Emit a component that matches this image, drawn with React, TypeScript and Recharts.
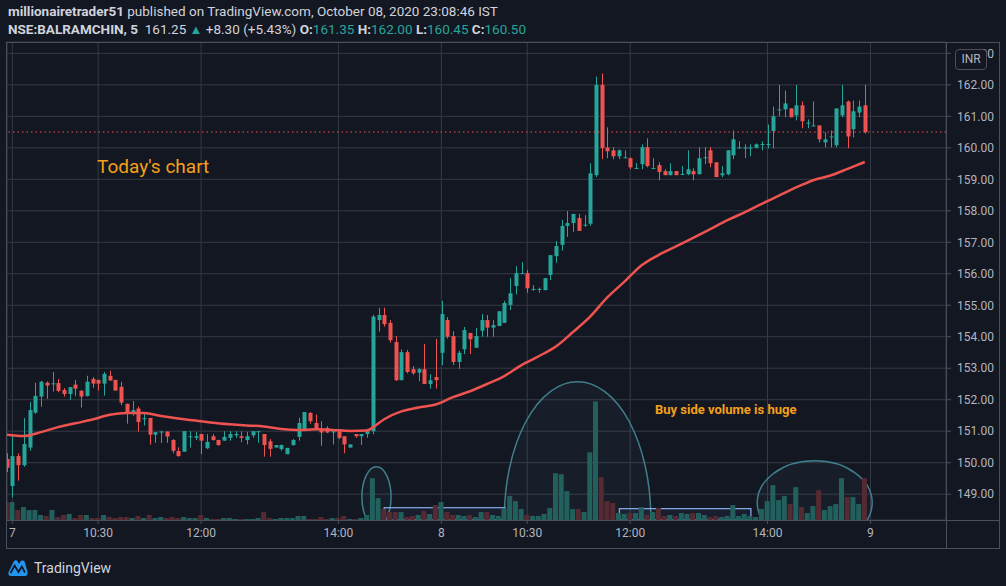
import React from 'react'
import {
  ComposedChart,
  Bar,
  Line,
  XAxis,
  YAxis,
  CartesianGrid,
  Cell,
  ReferenceLine,
  ReferenceArea,
} from 'recharts'

// 5-minute candles, index 0 = last bar of the previous session, 1..75 = Oct 7, 76..150 = Oct 8
const opens = [
  150.12, 149.26, 150.21, 149.92, 150.48, 151.59, 152.1, 152.54, 152.5, 152.53,
  152.31, 152.18, 152.48, 152.28, 152.12, 152.66, 152.63, 152.51, 152.76, 152.63,
  152.41, 151.87, 151.57, 151.72, 151.39, 151.42, 150.89, 150.97, 150.99, 150.72,
  150.37, 150.35, 150.82, 150.79, 150.91, 150.46, 150.84, 150.72, 150.7, 150.79,
  150.87, 150.84, 150.72, 150.87, 150.97, 150.91, 150.68, 150.48, 150.43, 150.27,
  150.56, 150.82, 151.05, 151.58, 151.26, 151.08, 151.1, 150.96, 151.0, 150.84,
  150.48, 150.91, 150.84, 150.91, 151.0, 154.53, 154.69, 154.44, 153.83, 152.62,
  153.51, 152.97, 152.86, 152.97, 152.5, 152.72, 153.49, 154.53, 154.02, 153.2,
  153.6, 154.12, 153.65, 154.19, 154.53, 154.29, 154.34, 154.44, 155.01, 155.61,
  156.0, 156.02, 155.5, 155.5, 155.48, 155.96, 156.56, 156.92, 157.52, 157.61,
  157.77, 157.54, 157.59, 159.13, 162.0, 160.01, 159.92, 159.73, 159.68, 159.67,
  159.34, 159.48, 160.02, 159.34, 159.45, 159.26, 159.13, 159.26, 159.16, 159.16,
  159.26, 159.16, 159.68, 159.92, 159.54, 159.13, 159.16, 159.76, 159.99, 159.99,
  159.99, 160.0, 160.1, 160.1, 160.53, 161.2, 161.22, 161.25, 161.03, 161.35,
  160.78, 160.69, 160.71, 160.17, 160.34, 160.08, 161.03, 161.47, 160.59, 161.12,
  161.35,
]
const highs = [
  150.3, 150.91, 150.3, 151.42, 151.93, 152.54, 152.6, 152.58, 152.88, 152.66,
  152.37, 152.4, 152.63, 152.31, 152.76, 152.72, 152.63, 152.88, 152.92, 152.63,
  152.57, 151.87, 151.96, 151.78, 151.61, 151.42, 150.97, 151.01, 150.99, 150.75,
  150.49, 151.0, 151.0, 150.98, 150.91, 150.91, 150.91, 150.73, 151.0, 151.0,
  151.0, 151.0, 150.98, 151.0, 151.0, 150.91, 150.75, 150.56, 150.58, 150.47,
  150.75, 151.43, 151.61, 151.61, 151.53, 151.32, 151.16, 151.0, 151.0, 150.84,
  150.58, 150.91, 150.91, 151.08, 154.7, 154.92, 154.92, 154.53, 154.02, 153.6,
  153.58, 153.07, 153.0, 153.77, 152.81, 153.93, 155.14, 154.62, 154.18, 153.56,
  154.31, 154.12, 154.28, 154.72, 154.69, 154.53, 154.81, 155.14, 155.86, 156.24,
  156.37, 156.12, 155.64, 155.56, 155.86, 156.59, 157.04, 157.71, 157.99, 157.9,
  157.9, 157.86, 159.51, 162.26, 162.36, 160.65, 160.02, 159.95, 159.92, 159.7,
  159.51, 160.11, 160.3, 159.67, 159.54, 159.32, 159.51, 159.26, 159.42, 159.92,
  159.35, 160.02, 160.02, 160.02, 159.54, 159.42, 159.92, 160.55, 160.21, 160.11,
  160.11, 160.14, 160.21, 160.74, 161.31, 162.0, 161.82, 161.25, 162.0, 161.47,
  160.9, 161.47, 160.71, 160.49, 160.55, 161.25, 162.0, 161.5, 161.5, 161.5,
  162.0,
]
const lows = [
  149.7, 148.9, 149.43, 149.87, 150.38, 151.55, 151.78, 152.03, 152.26, 152.24,
  152.1, 151.99, 152.12, 151.75, 152.1, 152.38, 152.29, 152.13, 152.6, 152.29,
  151.83, 151.24, 151.49, 150.99, 151.18, 150.57, 150.63, 150.63, 150.63, 150.3,
  150.19, 150.35, 150.48, 150.72, 150.27, 150.43, 150.7, 150.54, 150.7, 150.7,
  150.79, 150.65, 150.58, 150.79, 150.63, 150.19, 150.19, 150.48, 150.38, 150.27,
  150.54, 150.7, 151.0, 151.24, 151.05, 150.54, 150.94, 150.58, 150.75, 150.3,
  150.48, 150.79, 150.56, 150.79, 150.9, 154.16, 154.32, 153.81, 152.59, 152.62,
  152.84, 152.79, 152.59, 152.5, 152.35, 152.35, 153.1, 153.94, 153.1, 152.98,
  153.45, 153.45, 153.65, 154.0, 154.0, 154.0, 154.34, 154.44, 154.85, 155.35,
  156.0, 155.4, 155.46, 155.4, 155.48, 155.8, 156.35, 156.73, 157.17, 157.33,
  157.36, 157.49, 157.52, 159.07, 159.64, 159.67, 159.64, 159.64, 159.67, 159.32,
  159.34, 159.32, 159.38, 159.32, 158.97, 159.13, 159.13, 159.13, 159.13, 159.13,
  158.97, 159.16, 159.48, 159.38, 159.07, 159.07, 159.13, 159.64, 159.98, 159.67,
  159.73, 159.98, 159.92, 159.98, 159.98, 161.0, 160.97, 160.97, 160.87, 160.62,
  160.62, 160.68, 160.17, 160.01, 160.01, 160.01, 160.97, 159.99, 160.33, 160.97,
  160.45,
]
const closes = [
  149.84, 150.21, 149.92, 150.59, 151.67, 152.12, 152.57, 152.45, 152.52, 152.28,
  152.18, 152.4, 152.35, 152.1, 152.57, 152.51, 152.51, 152.82, 152.61, 152.29,
  151.91, 151.6, 151.67, 151.29, 151.41, 150.89, 150.97, 150.99, 150.83, 150.38,
  150.21, 151.0, 150.84, 150.84, 150.7, 150.66, 150.72, 150.56, 150.82, 150.91,
  150.91, 150.79, 150.84, 151.0, 151.0, 150.56, 150.44, 150.56, 150.56, 150.47,
  150.72, 151.26, 151.61, 151.32, 151.05, 150.96, 150.96, 151.0, 150.79, 150.58,
  150.58, 150.84, 150.91, 151.0, 154.64, 154.69, 154.4, 153.89, 152.62, 153.51,
  152.88, 152.84, 152.97, 152.5, 152.62, 152.62, 154.72, 154.0, 153.2, 153.49,
  154.21, 153.92, 154.02, 154.53, 154.29, 154.37, 154.81, 155.07, 155.38, 156.02,
  156.02, 155.54, 155.52, 155.52, 155.86, 156.59, 156.88, 157.52, 157.61, 157.9,
  157.36, 157.56, 159.19, 162.0, 159.99, 159.89, 159.73, 159.92, 159.7, 159.38,
  159.36, 160.02, 159.42, 159.36, 159.23, 159.13, 159.26, 159.13, 159.17, 159.32,
  159.16, 159.67, 159.7, 159.51, 159.07, 159.19, 159.92, 160.27, 160.01, 160.01,
  160.01, 160.11, 160.12, 160.12, 161.0, 161.22, 161.41, 160.97, 161.35, 160.84,
  160.8, 160.71, 160.27, 160.27, 160.36, 161.25, 161.35, 160.36, 161.16, 161.31,
  160.5,
]
// volume in thousand shares
const volumes = [
  18, 18, 10, 13, 10, 10, 5, 4, 10, 3, 5, 6, 2, 5, 5, 2, 2, 5, 3, 2,
  3, 3, 2, 4, 2, 5, 2, 3, 2, 3, 2, 3, 2, 2, 5, 2, 1, 1, 2, 2,
  1, 1, 1, 1, 2, 8, 2, 1, 2, 2, 2, 4, 4, 1, 1, 3, 1, 2, 2, 4,
  1, 1, 2, 5, 42, 22, 11, 8, 8, 8, 3, 4, 5, 9, 6, 15, 18, 8, 5, 5,
  4, 5, 3, 8, 8, 5, 4, 12, 24, 19, 11, 5, 4, 4, 6, 12, 47, 46, 29, 11,
  11, 8, 68, 119, 43, 19, 17, 7, 6, 7, 7, 13, 5, 8, 12, 4, 5, 4, 7, 6,
  7, 7, 5, 3, 4, 3, 4, 15, 4, 6, 4, 3, 11, 19, 35, 20, 24, 16, 33, 13,
  7, 14, 30, 10, 14, 16, 42, 23, 23, 16, 42,
]
// moving average read at every third bar
const maIndex = [
  0, 3, 6, 9, 12, 15, 18, 21, 24, 27, 30, 33, 36, 39, 42, 45, 48, 51, 54, 57,
  60, 63, 64, 66, 69, 72, 75, 78, 81, 84, 87, 90, 93, 96, 99, 102, 105, 108, 111,
  114, 117, 120, 123, 126, 129, 132, 135, 138, 141, 144, 147, 150,
]
const maValues = [
  150.89, 150.85, 150.97, 151.13, 151.25, 151.37, 151.52, 151.58, 151.58, 151.48,
  151.4, 151.34, 151.27, 151.22, 151.18, 151.15, 151.07, 151.04, 151.06, 151.04,
  151.01, 151.02, 151.12, 151.38, 151.63, 151.75, 151.85, 152.08, 152.27, 152.5,
  152.75, 153.1, 153.38, 153.69, 154.15, 154.64, 155.25, 155.75, 156.27, 156.6,
  156.87, 157.14, 157.42, 157.7, 157.95, 158.22, 158.48, 158.74, 158.97, 159.12,
  159.33, 159.55,
]
const tickIndex = [1, 16, 34, 58, 76, 91, 109, 133, 151]
const tickLabels = ['7', '10:30', '12:00', '14:00', '8', '10:30', '12:00', '14:00', '9']
const priceTicks = [149, 150, 151, 152, 153, 154, 155, 156, 157, 158, 159, 160, 161, 162, 163]
const priceFloor = 148.18
const priceTop = 163.36
const lastClose = 160.5

const BG = '#131722'
const GRID = '#363a45'
const FRAME = '#4c4f5a'
const TEXT = '#d1d4dc'
const AXIS_TEXT = '#b2b5be'
const UP = '#26a69a'
const DOWN = '#ef5350'
const VOL_UP = '#22605d'
const VOL_DOWN = '#552a32'
const ORANGE = '#f5a01a'
const ANNOT = '#3f7f8c'
const BOX = '#8aaef0'

const data = opens.map((o, i) => {
  const k = maIndex.indexOf(i)
  return {
    i,
    o,
    h: highs[i],
    l: lows[i],
    c: closes[i],
    range: [lows[i], highs[i]],
    vol: volumes[i],
    ma: k >= 0 ? maValues[k] : null,
  }
})

const Candle = (props: any) => {
  const { x, y, width, height, payload } = props
  if (!payload) return null
  const { o, h, l, c } = payload
  const top = Math.min(y, y + height)
  const span = Math.abs(height)
  const k = h - l > 0 ? span / (h - l) : 0
  const yOf = (v: number) => top + (h - v) * k
  const cx = Math.round(x + width / 2) + 0.5
  const color = c >= o ? UP : DOWN
  const bTop = yOf(Math.max(o, c))
  const bBot = yOf(Math.min(o, c))
  return (
    <g>
      <line x1={cx} x2={cx} y1={top} y2={top + span} stroke={color} strokeWidth={1} />
      <rect x={cx - 2} y={bTop} width={4} height={Math.max(1, bBot - bTop)} fill={color} />
    </g>
  )
}

// ellipse drawn from its top (hi) to its bottom (lo, below the pane), clipped at the pane floor
const Ellipse = (props: any) => {
  const { x, y, width, height, hi, lo, id } = props
  const k = Math.abs(height) / (hi - priceFloor)
  const bottom = y + (hi - lo) * k
  return (
    <g>
      <defs>
        <clipPath id={id}>
          <rect x={x - 3} y={y - 3} width={width + 6} height={Math.abs(height) + 3} />
        </clipPath>
      </defs>
      <ellipse
        clipPath={`url(#${id})`}
        cx={x + width / 2}
        cy={(y + bottom) / 2}
        rx={width / 2}
        ry={(bottom - y) / 2}
        fill="rgba(90,150,170,0.05)"
        stroke={ANNOT}
        strokeWidth={1.5}
      />
    </g>
  )
}

const Box = (props: any) => {
  const { x, y, width, height } = props
  return (
    <rect x={x} y={y} width={width} height={height} fill="rgba(120,160,240,0.06)" stroke={BOX} strokeWidth={1.2} />
  )
}

const TvLogo = () => (
  <svg width="20" height="18" viewBox="0 0 20 18">
    <path
      d="M3 17 C0.5 17 0 14.5 0.6 13 L5.5 3 C6.5 0.8 9 0.8 10 3 L11 5 L12.3 2.8 C13.3 1 15.6 1 16.6 2.8 L19.4 12.5 C20.2 15 18.8 17 16.5 17 Z"
      fill="#2196f3"
    />
    <path d="M2.5 14 L6.6 6.5 L10.5 13 L13.8 7.5 L17 13.5" fill="none" stroke={BG} strokeWidth={1.8} />
  </svg>
)

const line = (style: React.CSSProperties) => (
  <div style={{ position: 'absolute', background: FRAME, pointerEvents: 'none', ...style }} />
)

export default function App() {
  return (
    <div
      style={{
        position: 'absolute',
        left: 0,
        top: 0,
        width: 1006,
        height: 586,
        background: BG,
        overflow: 'hidden',
        fontFamily: 'Roboto, "Noto Sans", sans-serif',
      }}
    >
      <div style={{ position: 'absolute', left: 8, top: 3, fontSize: 13.5, color: TEXT, whiteSpace: 'nowrap' }}>
        <b>millionairetrader51</b> published on TradingView.com, October 08, 2020 23:08:46 IST
      </div>
      <div style={{ position: 'absolute', left: 8, top: 21, fontSize: 13.5, color: TEXT, whiteSpace: 'nowrap' }}>
        <b>NSE:BALRAMCHIN, 5</b>&nbsp; 161.25 <span style={{ color: UP, fontSize: 13 }}>▲</span> +8.30 (+5.43%){' '}
        <b>O:</b><span style={{ color: UP }}>161.35</span> <b>H:</b><span style={{ color: UP }}>162.00</span>{' '}
        <b>L:</b><span style={{ color: UP }}>160.45</span> <b>C:</b><span style={{ color: UP }}>160.50</span>
      </div>

      <div style={{ position: 'absolute', left: 0, top: 0 }}>
        <ComposedChart
          width={1006}
          height={586}
          data={data}
          margin={{ top: 42, right: 6, bottom: 38, left: 7 }}
        >
          <CartesianGrid xAxisId="t" yAxisId="p" stroke={GRID} strokeWidth={1} />
          <XAxis
            xAxisId="t"
            dataKey="i"
            type="number"
            domain={[0.07, 164.2]}
            allowDataOverflow
            ticks={tickIndex}
            interval={0}
            tickFormatter={(v: number) => tickLabels[tickIndex.indexOf(v)]}
            height={28}
            axisLine={false}
            tickLine={{ stroke: FRAME }}
            tickSize={4}
            tickMargin={4}
            tick={{ fill: AXIS_TEXT, fontSize: 12 }}
          />
          <XAxis xAxisId="v" dataKey="i" type="number" domain={[0.07, 164.2]} allowDataOverflow hide />
          <YAxis
            yAxisId="p"
            orientation="right"
            domain={[priceFloor, priceTop]}
            allowDataOverflow
            ticks={priceTicks}
            interval={0}
            tickFormatter={(v: number) => v.toFixed(2)}
            width={54}
            axisLine={false}
            tickLine={{ stroke: FRAME }}
            tickSize={5}
            tickMargin={6}
            tick={{ fill: AXIS_TEXT, fontSize: 12 }}
          />
          <YAxis yAxisId="v" domain={[0, 480]} allowDataOverflow hide />

          <Bar xAxisId="v" yAxisId="v" dataKey="vol" barSize={5} isAnimationActive={false}>
            {data.map((d) => (
              <Cell key={`v-${d.i}`} fill={d.c >= d.o ? VOL_UP : VOL_DOWN} />
            ))}
          </Bar>

          <ReferenceArea xAxisId="t" yAxisId="p" x1={62.1} x2={67.2} y1={priceFloor} y2={149.87} ifOverflow="visible"
            shape={<Ellipse id="ell-a" hi={149.87} lo={147.96} />} />
          <ReferenceArea xAxisId="t" yAxisId="p" x1={87.0} x2={112.6} y1={priceFloor} y2={152.57} ifOverflow="visible"
            shape={<Ellipse id="ell-b" hi={152.57} lo={143.9} />} />
          <ReferenceArea xAxisId="t" yAxisId="p" x1={131.2} x2={151.3} y1={priceFloor} y2={150.06} ifOverflow="visible"
            shape={<Ellipse id="ell-c" hi={150.06} lo={147.4} />} />
          <ReferenceArea xAxisId="t" yAxisId="p" x1={66.0} x2={87.1} y1={priceFloor} y2={148.57} ifOverflow="visible" shape={<Box />} />
          <ReferenceArea xAxisId="t" yAxisId="p" x1={107.1} x2={130.1} y1={priceFloor} y2={148.54} ifOverflow="visible" shape={<Box />} />

          <ReferenceLine xAxisId="t" yAxisId="p" y={lastClose} stroke={DOWN} strokeDasharray="1.5 3" strokeWidth={1} />

          <Bar xAxisId="t" yAxisId="p" dataKey="range" barSize={4} shape={<Candle />} isAnimationActive={false} />

          <Line
            xAxisId="t"
            yAxisId="p"
            dataKey="ma"
            type="monotone"
            connectNulls
            dot={false}
            stroke={DOWN}
            strokeWidth={2.5}
            isAnimationActive={false}
          />
        </ComposedChart>
      </div>

      {/* pane frame */}
      {line({ left: 7, top: 42, width: 992, height: 1 })}
      {line({ left: 7, top: 548, width: 993, height: 1 })}
      {line({ left: 6, top: 42, width: 1, height: 507 })}
      {line({ left: 999, top: 42, width: 1, height: 507 })}
      {line({ left: 946, top: 42, width: 1, height: 507 })}
      {line({ left: 7, top: 520, width: 992, height: 1 })}

      <div
        style={{
          position: 'absolute',
          left: 955,
          top: 49,
          width: 30,
          height: 19,
          border: `1px solid ${FRAME}`,
          borderRadius: 4,
          background: BG,
          color: AXIS_TEXT,
          fontSize: 12,
          lineHeight: '19px',
          textAlign: 'center',
        }}
      >
        INR
      </div>

      <div style={{ position: 'absolute', left: 97, top: 155, fontSize: 19, color: ORANGE, whiteSpace: 'nowrap' }}>
        Today's chart
      </div>
      <div
        style={{ position: 'absolute', left: 655, top: 402, fontSize: 13, fontWeight: 700, color: ORANGE, whiteSpace: 'nowrap' }}
      >
        Buy side volume is huge
      </div>

      <div style={{ position: 'absolute', left: 8, top: 559, display: 'flex', alignItems: 'center', gap: 6 }}>
        <TvLogo />
        <span style={{ color: TEXT, fontSize: 14 }}>TradingView</span>
      </div>
    </div>
  )
}
